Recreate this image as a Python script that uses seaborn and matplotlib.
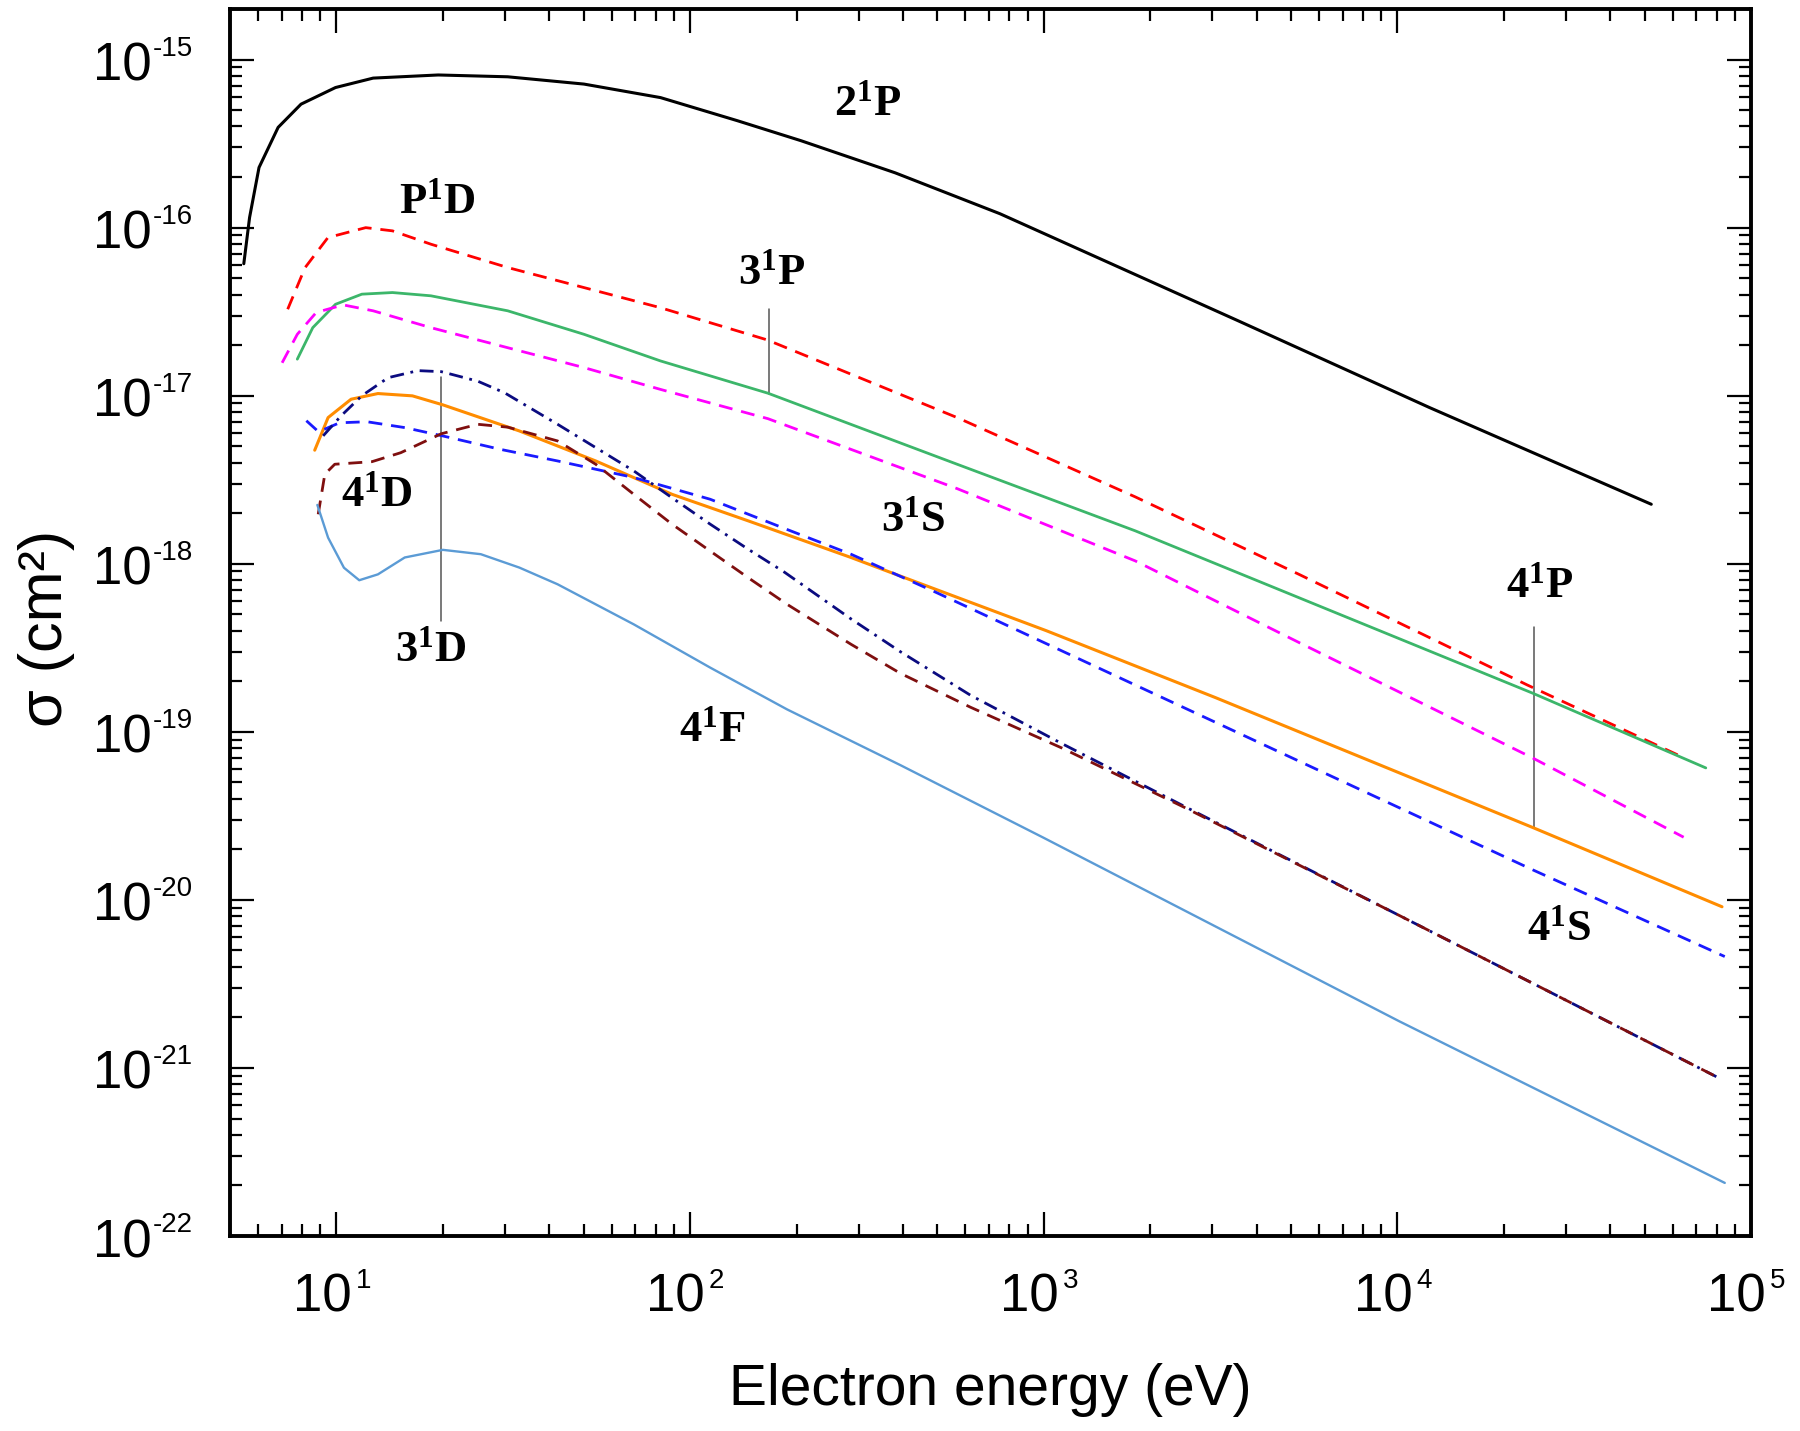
import numpy as np
import pandas as pd
import matplotlib
matplotlib.use("Agg")
import matplotlib.pyplot as plt
import seaborn as sns
from matplotlib.ticker import FixedLocator, LogLocator, NullFormatter

# ---------------- data ----------------
E_2P = [5.47, 5.68, 6.04, 6.84, 7.94, 9.94, 12.7, 19.4, 30.5, 50.1, 82.5, 136, 206, 380, 752, 3548, 12330, 52240]
S_2P = [6.1e-17, 1.15e-16, 2.28e-16, 3.95e-16, 5.43e-16, 6.82e-16, 7.76e-16, 8.1e-16, 7.9e-16, 7.15e-16,
        5.94e-16, 4.33e-16, 3.29e-16, 2.12e-16, 1.21e-16, 2.79e-17, 8.5e-18, 2.26e-18]

E_PD = [7.28, 8.15, 9.46, 12.1, 14.4, 18.5, 30.5, 50.1, 82.4, 165, 569, 1815, 5270, 23300, 64700]
S_PD = [3.27e-17, 5.78e-17, 8.73e-17, 1.0e-16, 9.57e-17, 7.97e-17, 5.79e-17, 4.40e-17, 3.34e-17, 2.15e-17,
        7.41e-18, 2.5e-18, 8.65e-19, 1.9e-19, 7.0e-20]

E_3P = [7.75, 8.57, 9.94, 11.8, 14.4, 18.5, 30.5, 50.1, 82.5, 166, 569, 1815, 5270, 24100, 74500]
S_3P = [1.65e-17, 2.54e-17, 3.5e-17, 4.02e-17, 4.11e-17, 3.93e-17, 3.2e-17, 2.32e-17, 1.61e-17, 1.035e-17,
        3.91e-18, 1.57e-18, 6.28e-19, 1.7e-19, 6.1e-20]

E_3S = [7.02, 7.75, 8.77, 10.45, 12.7, 18.5, 30.5, 50.1, 82.5, 166, 569, 1815, 5270, 24100, 64500]
S_3S = [1.57e-17, 2.32e-17, 3.13e-17, 3.47e-17, 3.2e-17, 2.54e-17, 1.93e-17, 1.47e-17, 1.09e-17, 7.3e-18,
        2.8e-18, 1.04e-18, 3.4e-19, 7.0e-20, 2.36e-20]

E_4P = [8.68, 9.47, 11.0, 13.1, 16.4, 20.0, 32.9, 54.1, 88.9, 146, 285, 393, 1016, 3055, 24100, 82800]
S_4P = [4.74e-18, 7.41e-18, 9.53e-18, 1.03e-17, 9.98e-18, 8.82e-18, 6.17e-18, 4.09e-18, 2.59e-18, 1.80e-18,
        1.09e-18, 8.45e-19, 4.0e-19, 1.6e-19, 2.7e-20, 9.1e-21]

E_4S = [8.22, 8.9, 10.2, 12.2, 15.6, 20, 29, 42.2, 69.3, 114, 188, 285, 484, 24300, 84300]
S_4S = [7.1e-18, 6.1e-18, 6.9e-18, 7.0e-18, 6.46e-18, 5.76e-18, 4.8e-18, 4.09e-18, 3.26e-18, 2.42e-18,
        1.6e-18, 1.14e-18, 6.92e-19, 1.5e-20, 4.6e-21]

E_3D = [9.17, 10.3, 11.8, 14.0, 17.0, 19.8, 25.1, 29.9, 42.2, 54.1, 69.3, 88.9, 114, 146, 185, 285, 393,
        621, 1127, 2500, 10100, 79800]
S_3D = [5.77e-18, 7.58e-18, 1.0e-17, 1.28e-17, 1.41e-17, 1.39e-17, 1.22e-17, 1.04e-17, 6.76e-18, 4.91e-18,
        3.57e-18, 2.47e-18, 1.72e-18, 1.22e-18, 8.9e-19, 4.7e-19, 3.0e-19, 1.65e-19, 8.5e-20, 3.6e-20,
        8.1e-21, 8.87e-22]

E_4D = [8.88, 9.27, 9.89, 12.6, 15.2, 19.8, 25.1, 30.5, 42.2, 54.1, 69.3, 88.9, 114, 146, 188, 285, 393,
        621, 1127, 2500, 10100, 79800]
S_4D = [1.97e-18, 3.41e-18, 3.91e-18, 4.05e-18, 4.58e-18, 5.94e-18, 6.76e-18, 6.5e-18, 5.38e-18, 3.91e-18,
        2.59e-18, 1.72e-18, 1.19e-18, 8.26e-19, 5.74e-19, 3.32e-19, 2.23e-19, 1.4e-19, 8.0e-20, 3.55e-20,
        8.1e-21, 8.87e-22]

E_4F = [8.83, 9.47, 10.5, 11.6, 13.1, 15.6, 20, 25.6, 32.9, 42.2, 69.3, 114, 188, 393, 1000, 10100, 84300]
S_4F = [2.24e-18, 1.43e-18, 9.47e-19, 7.98e-19, 8.65e-19, 1.09e-18, 1.21e-18, 1.14e-18, 9.49e-19, 7.55e-19,
        4.36e-19, 2.41e-19, 1.36e-19, 6.34e-20, 2.34e-20, 1.9e-21, 2.07e-22]

# state labels: (level, term), energy, sigma of label centre
LABEL_PRE = ["2", "P", "3", "3", "4", "3", "4", "4", "4"]
LABEL_TERM = ["P", "D", "P", "S", "D", "D", "F", "P", "S"]
LABEL_E = [317, 19.3, 170, 427, 13.0, 18.5, 115.6, 25200, 28700]
LABEL_S = [5.46e-16, 1.43e-16, 5.38e-17, 1.82e-18, 2.57e-18, 3.07e-19, 1.03e-19, 7.39e-19, 6.7e-21]

# marker lines tying labels to curves: energy, top sigma, bottom sigma
MARK_E = [167.5, 19.8, 24270]
MARK_TOP = [3.29e-17, 1.29e-17, 4.2e-19]
MARK_BOT = [1.03e-17, 4.57e-19, 2.69e-20]

XTICKS = [1e1, 1e2, 1e3, 1e4, 1e5]
YTICKS = [1e-22, 1e-21, 1e-20, 1e-19, 1e-18, 1e-17, 1e-16, 1e-15]
XEXP = ["1", "2", "3", "4", "5"]
YEXP = ["-22", "-21", "-20", "-19", "-18", "-17", "-16", "-15"]

# ---------------- style ----------------
sns.set_style("ticks")
plt.rcParams["font.family"] = ["Liberation Sans", "DejaVu Sans"]
plt.rcParams["text.color"] = "black"
plt.rcParams["axes.labelcolor"] = "black"
plt.rcParams["xtick.color"] = "black"
plt.rcParams["ytick.color"] = "black"
plt.rcParams["mathtext.fontset"] = "custom"
plt.rcParams["mathtext.rm"] = "Liberation Serif"
plt.rcParams["mathtext.bf"] = "Liberation Serif:bold"

fig = plt.figure(figsize=(18, 14.31), dpi=100, facecolor="white")
ax = fig.add_axes([230 / 1800, 1 - 1236 / 1431, (1751 - 230) / 1800, (1236 - 9) / 1431])
ax.set_xscale("log")
ax.set_yscale("log")

series = [
    (E_2P, S_2P, "#000000", "-", 2.2),
    (E_PD, S_PD, "#ff0000", (0, (5, 3.2)), 2.0),
    (E_3P, S_3P, "#3cb66a", "-", 2.0),
    (E_3S, S_3S, "#ff00ff", (0, (5, 3.2)), 2.0),
    (E_4P, S_4P, "#ff8c00", "-", 2.2),
    (E_4S, S_4S, "#1a1aff", (0, (5, 3.2)), 2.0),
    (E_3D, S_3D, "#0b0b80", (0, (5, 2.4, 1, 2.4)), 2.0),
    (E_4D, S_4D, "#7f0f0f", (0, (5, 3.2)), 2.0),
    (E_4F, S_4F, "#5b9bd5", "-", 1.7),
]
for E, S, col, ls, lw in series:
    df = pd.DataFrame({"E": E, "S": S})
    sns.lineplot(data=df, x="E", y="S", ax=ax, color=col, linestyle=ls, linewidth=lw,
                 sort=False, estimator=None, legend=False)

for e, t, b in zip(MARK_E, MARK_TOP, MARK_BOT):
    ax.plot([e, e], [b, t], color="#555555", lw=1.1, zorder=1)

for pre, term, e, s in zip(LABEL_PRE, LABEL_TERM, LABEL_E, LABEL_S):
    ax.text(e, s, r"$\mathbf{%s^{1}%s}$" % (pre, term), ha="center", va="center",
            fontsize=32, color="black")

ax.set_xlim(5, 1e5)
ax.set_ylim(1e-22, 2e-15)

ax.xaxis.set_major_locator(FixedLocator(XTICKS))
ax.yaxis.set_major_locator(FixedLocator(YTICKS))
ax.xaxis.set_minor_locator(LogLocator(base=10, subs=np.arange(2, 10), numticks=50))
ax.yaxis.set_minor_locator(LogLocator(base=10, subs=np.arange(2, 10), numticks=50))
ax.xaxis.set_major_formatter(NullFormatter())
ax.yaxis.set_major_formatter(NullFormatter())
ax.xaxis.set_minor_formatter(NullFormatter())
ax.yaxis.set_minor_formatter(NullFormatter())

ax.tick_params(which="both", direction="in", top=True, right=True, width=1.6, colors="black")
ax.tick_params(which="major", length=17)
ax.tick_params(which="minor", length=8.5)

# tick labels: "10" with a raised exponent
BASE_FS = 38
EXP_FS = 20
for v, ex in zip(XTICKS, XEXP):
    ax.annotate("10", xy=(v, 0), xycoords=("data", "axes fraction"), xytext=(15, -76),
                textcoords="offset pixels", ha="right", va="baseline", fontsize=BASE_FS,
                color="black", annotation_clip=False)
    ax.annotate(ex, xy=(v, 0), xycoords=("data", "axes fraction"), xytext=(19, -52),
                textcoords="offset pixels", ha="left", va="baseline", fontsize=EXP_FS,
                color="black", annotation_clip=False)
for v, ex in zip(YTICKS, YEXP):
    ax.annotate("10", xy=(0, v), xycoords=("axes fraction", "data"), xytext=(-78, -21),
                textcoords="offset pixels", ha="right", va="baseline", fontsize=BASE_FS,
                color="black", annotation_clip=False)
    ax.annotate(ex, xy=(0, v), xycoords=("axes fraction", "data"), xytext=(-77, 4),
                textcoords="offset pixels", ha="left", va="baseline", fontsize=EXP_FS,
                color="black", annotation_clip=False)

for sp in ax.spines.values():
    sp.set_linewidth(2.8)
    sp.set_color("black")

ax.set_xlabel("Electron energy (eV)", fontsize=41, family="Liberation Sans", color="black")
ax.set_ylabel("\u03c3 (cm\u00b2)", fontsize=44, family="Liberation Sans", color="black")
ax.xaxis.set_label_coords(0.5, -0.1035)
ax.yaxis.set_label_coords(-0.102, 0.4955)

fig.savefig("out.png", dpi=100, facecolor="white")
